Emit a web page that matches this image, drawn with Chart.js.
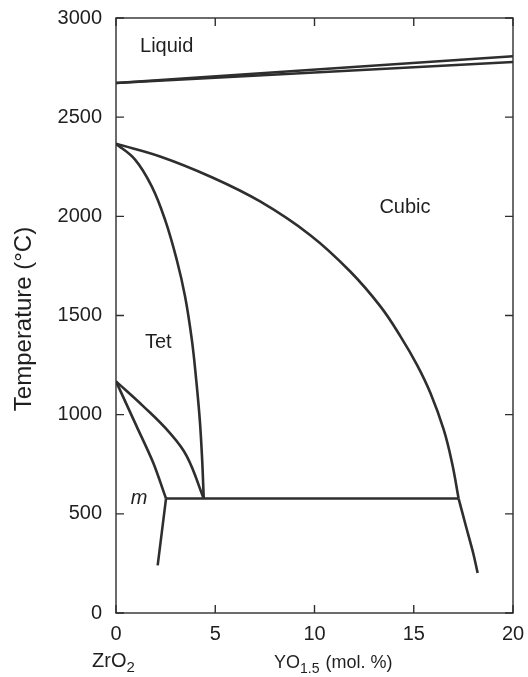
<!DOCTYPE html>
<html>
<head>
<meta charset="utf-8">
<title>ZrO2–YO1.5 phase diagram</title>
<script src="https://cdn.jsdelivr.net/npm/chart.js@4.4.1/dist/chart.umd.min.js"></script>
<style>
  html, body { margin: 0; padding: 0; background: #ffffff; overflow: hidden; }
  #phase { display: block; }
</style>
</head>
<body>
<canvas id="phase" width="528" height="677"></canvas>
<script>
// Axis ranges and tick values
const xTicks = [0, 5, 10, 15, 20];
const yTicks = [0, 500, 1000, 1500, 2000, 2500, 3000];

// Liquidus / solidus lines (YO1.5 mol.% , °C)
const liquidusX = [0, 20];
const liquidusUpperT = [2672, 2807];
const liquidusLowerT = [2672, 2778];

// Cubic / (cubic + tet) boundary, above and below the eutectoid
const cubicX = [0, 2.22, 4.74, 7.26, 9.79, 11.80, 13.32, 14.33, 15.17, 15.84, 16.51, 16.93, 17.26];
const cubicT = [2366, 2302, 2201, 2075, 1905, 1722, 1546, 1395, 1250, 1109, 924, 756, 577];
const cubicLowX = [17.26, 17.65, 18.00, 18.22];
const cubicLowT = [577, 430, 300, 202];

// Tet / (tet + cubic) boundary
const tetX = [0, 0.96, 1.80, 2.47, 3.06, 3.48, 3.82, 4.04, 4.22, 4.34, 4.42];
const tetT = [2366, 2286, 2151, 1983, 1781, 1596, 1378, 1176, 975, 773, 577];

// Monoclinic / tetragonal boundaries
const monoUpperX = [0, 1.38, 2.72, 3.57, 4.42];
const monoUpperT = [1168, 1042, 907, 790, 577];
const monoLowerX = [0, 1.04, 1.88, 2.52];
const monoLowerT = [1168, 941, 756, 577];
const monoBottomX = [2.52, 2.10];
const monoBottomT = [577, 240];

// Eutectoid isotherm
const eutectoidX = [2.52, 17.26];
const eutectoidT = [577, 577];

// Phase field labels
const fieldText = ['Liquid', 'Cubic', 'Tet', 'm'];
const fieldX = [1.21, 13.27, 1.46, 0.74];
const fieldT = [2828, 2017, 1336, 550];
const fieldItalic = [false, false, false, true];

const LINE = '#2e2e2e';
const INK = '#1f1f1f';
const FONT = "'Liberation Sans', Arial, Helvetica, sans-serif";

function pts(xs, ys) { return xs.map((x, i) => ({ x: x, y: ys[i] })); }
function curve(xs, ys, tension) {
  return {
    data: pts(xs, ys),
    showLine: true,
    borderColor: LINE,
    borderWidth: 2.6,
    pointRadius: 0,
    tension: tension,
    borderJoinStyle: 'round',
    fill: false
  };
}

// Frame, inward ticks, phase labels and axis captions
const decorations = {
  id: 'decorations',
  afterDatasetsDraw(chart) {
    const { ctx, chartArea: a, scales } = chart;
    const xs = scales.x, ys = scales.y;
    const tl = 8;
    ctx.save();
    ctx.strokeStyle = LINE;
    ctx.lineWidth = 1.4;
    ctx.strokeRect(a.left, a.top, a.right - a.left, a.bottom - a.top);
    ctx.beginPath();
    xTicks.forEach(v => {
      const px = xs.getPixelForValue(v);
      ctx.moveTo(px, a.bottom); ctx.lineTo(px, a.bottom - tl);
      ctx.moveTo(px, a.top); ctx.lineTo(px, a.top + tl);
    });
    yTicks.forEach(v => {
      const py = ys.getPixelForValue(v);
      ctx.moveTo(a.left, py); ctx.lineTo(a.left + tl, py);
      ctx.moveTo(a.right, py); ctx.lineTo(a.right - tl, py);
    });
    ctx.stroke();

    ctx.fillStyle = INK;
    ctx.textAlign = 'left';
    ctx.textBaseline = 'alphabetic';
    fieldText.forEach((t, i) => {
      ctx.font = (fieldItalic[i] ? 'italic ' : '') + '20px ' + FONT;
      ctx.fillText(t, xs.getPixelForValue(fieldX[i]), ys.getPixelForValue(fieldT[i]));
    });

    // ZrO2 end-member caption
    let x0 = 92, base = 667;
    ctx.font = '20px ' + FONT;
    ctx.fillText('ZrO', x0, base);
    x0 += ctx.measureText('ZrO').width;
    ctx.font = '15px ' + FONT;
    ctx.fillText('2', x0, base + 5);

    // YO1.5 composition caption
    x0 = 274; base = 668;
    ctx.font = '18px ' + FONT;
    ctx.fillText('YO', x0, base);
    x0 += ctx.measureText('YO').width;
    ctx.font = '14px ' + FONT;
    ctx.fillText('1.5', x0, base + 5);
    x0 += ctx.measureText('1.5').width + 1;
    ctx.font = '18px ' + FONT;
    ctx.fillText(' (mol. %)', x0, base);

    // Temperature axis caption
    ctx.translate(31, 319);
    ctx.rotate(-Math.PI / 2);
    ctx.textAlign = 'center';
    ctx.font = '24px ' + FONT;
    ctx.fillText('Temperature (\u00B0C)', 0, 0);
    ctx.restore();
  }
};

new Chart(document.getElementById('phase'), {
  type: 'scatter',
  data: {
    datasets: [
      curve(liquidusX, liquidusUpperT, 0),
      curve(liquidusX, liquidusLowerT, 0),
      curve(cubicX, cubicT, 0.4),
      curve(cubicLowX, cubicLowT, 0.2),
      curve(tetX, tetT, 0.4),
      curve(monoUpperX, monoUpperT, 0.4),
      curve(monoLowerX, monoLowerT, 0.3),
      curve(monoBottomX, monoBottomT, 0),
      curve(eutectoidX, eutectoidT, 0)
    ]
  },
  options: {
    responsive: false,
    maintainAspectRatio: false,
    animation: false,
    devicePixelRatio: 1,
    layout: { padding: { top: 18, right: 15, left: 0, bottom: 0 } },
    plugins: { legend: { display: false }, tooltip: { enabled: false } },
    scales: {
      x: {
        type: 'linear', min: 0, max: 20,
        afterFit(s) { s.height = 64; s.paddingLeft = 0; s.paddingRight = 0; },
        grid: { display: false, drawTicks: false },
        border: { display: false },
        ticks: {
          stepSize: 5, autoSkip: false, maxRotation: 0, padding: 9, color: INK,
          font: { family: FONT, size: 20 },
          callback: v => String(v)
        }
      },
      y: {
        type: 'linear', min: 0, max: 3000,
        afterFit(s) { s.width = 116; s.paddingTop = 0; s.paddingBottom = 0; },
        grid: { display: false, drawTicks: false },
        border: { display: false },
        ticks: {
          stepSize: 500, autoSkip: false, padding: 14, color: INK,
          font: { family: FONT, size: 20 },
          callback: v => String(v)
        }
      }
    }
  },
  plugins: [decorations]
});
</script>
</body>
</html>
